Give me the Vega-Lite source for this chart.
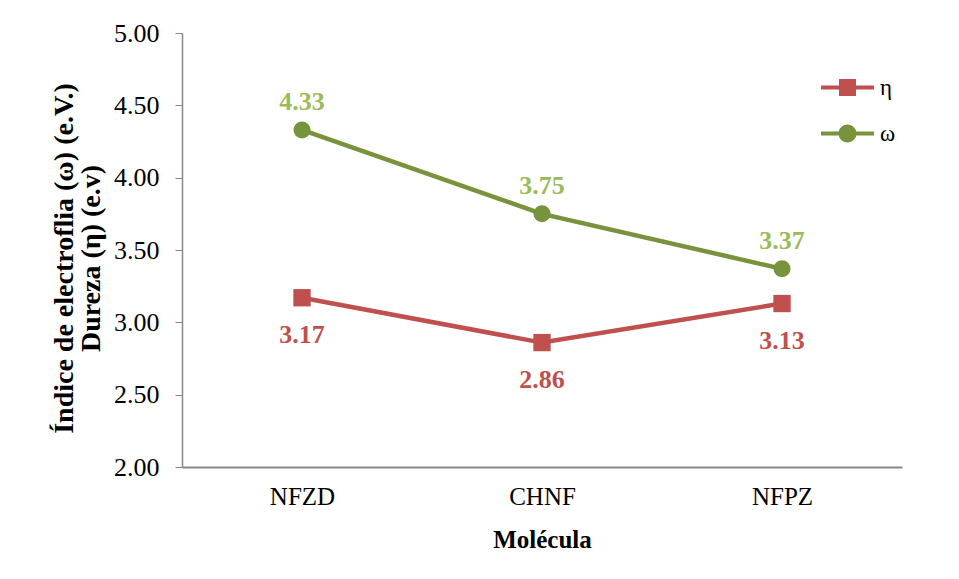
{
  "$schema": "https://vega.github.io/schema/vega-lite/v6.json",
  "width": 720,
  "height": 434,
  "autosize": {"type": "none"},
  "padding": {"left": 182, "top": 33, "right": 57, "bottom": 112},
  "background": "white",
  "config": {
    "font": "Liberation Serif",
    "view": {"stroke": null},
    "axis": {"grid": false, "domainColor": "#888888", "tickColor": "#888888", "labelColor": "#000000", "titleColor": "#000000", "labelFont": "Liberation Serif", "titleFont": "Liberation Serif"}
  },
  "data": {
    "values": [
      {"Molecula": "NFZD", "serie": "η", "valor": 3.17},
      {"Molecula": "CHNF", "serie": "η", "valor": 2.86},
      {"Molecula": "NFPZ", "serie": "η", "valor": 3.13},
      {"Molecula": "NFZD", "serie": "ω", "valor": 4.33},
      {"Molecula": "CHNF", "serie": "ω", "valor": 3.75},
      {"Molecula": "NFPZ", "serie": "ω", "valor": 3.37}
    ]
  },
  "encoding": {
    "x": {
      "field": "Molecula", "type": "nominal", "sort": ["NFZD", "CHNF", "NFPZ"],
      "scale": {"type": "point", "padding": 0.5},
      "axis": {"title": "Molécula", "titleFontSize": 25, "titleFontWeight": "bold", "labelFontSize": 25, "labelAngle": 0, "ticks": false, "labelPadding": 17, "titlePadding": 18, "domainWidth": 2}
    },
    "y": {
      "field": "valor", "type": "quantitative",
      "scale": {"domain": [2, 5], "nice": false, "zero": false},
      "axis": {"title": ["Índice de electroflia (ω) (e.V.)", "Dureza (η) (e.v)"], "titleFontSize": 28, "titleFontWeight": "bold", "titleLineHeight": 27, "titleX": -104, "titleY": 225, "titleBaseline": "bottom", "titleAngle": -90, "titleAlign": "center", "labelFontSize": 26, "values": [2, 2.5, 3, 3.5, 4, 4.5, 5], "format": ".2f", "tickSize": 7, "labelPadding": 16, "domainWidth": 1.5}
    },
    "color": {
      "field": "serie", "type": "nominal",
      "scale": {"domain": ["η", "ω"], "range": ["#C0504D", "#77933C"]},
      "legend": {
        "title": null, "orient": "none", "legendX": 654, "legendY": 43, "padding": 0,
        "labelFontSize": 23, "labelFont": "Liberation Serif", "rowPadding": 22, "symbolSize": 400, "labelOffset": 21,
        "symbolOpacity": 1,
        "encode": {
          "symbols": {
            "update": {
              "shape": {"signal": "datum.value === 'η' ? 'M-2.65,-0.2H-0.85V-0.85H0.85V-0.2H2.65V0.2H0.85V0.85H-0.85V0.2H-2.65Z' : 'M-2.65,-0.2H2.65V0.2H-2.65Z M-0.9,0A0.9,0.9 0 1 1 0.9,0A0.9,0.9 0 1 1 -0.9,0Z'"},
              "fill": {"signal": "datum.value === 'η' ? '#C0504D' : '#77933C'"},
              "stroke": {"value": "transparent"},
              "strokeWidth": {"value": 0}
            }
          }
        }
      }
    }
  },
  "layer": [
    {"mark": {"type": "line", "strokeWidth": 4.5}},
    {
      "transform": [{"filter": "datum.serie === 'η'"}],
      "mark": {"type": "point", "filled": true, "opacity": 1, "size": 300, "shape": "square"}
    },
    {
      "transform": [{"filter": "datum.serie === 'ω'"}],
      "mark": {"type": "point", "filled": true, "opacity": 1, "size": 290, "shape": "circle"}
    },
    {
      "transform": [{"filter": "datum.serie === 'ω'"}],
      "mark": {"type": "text", "dy": -28, "fontSize": 26, "fontWeight": "bold"},
      "encoding": {"text": {"field": "valor", "type": "quantitative", "format": ".2f"}, "color": {"value": "#9BBB59"}}
    },
    {
      "transform": [{"filter": "datum.serie === 'η'"}],
      "mark": {"type": "text", "dy": 37, "fontSize": 26, "fontWeight": "bold"},
      "encoding": {"text": {"field": "valor", "type": "quantitative", "format": ".2f"}, "color": {"value": "#C0504D"}}
    }
  ]
}
